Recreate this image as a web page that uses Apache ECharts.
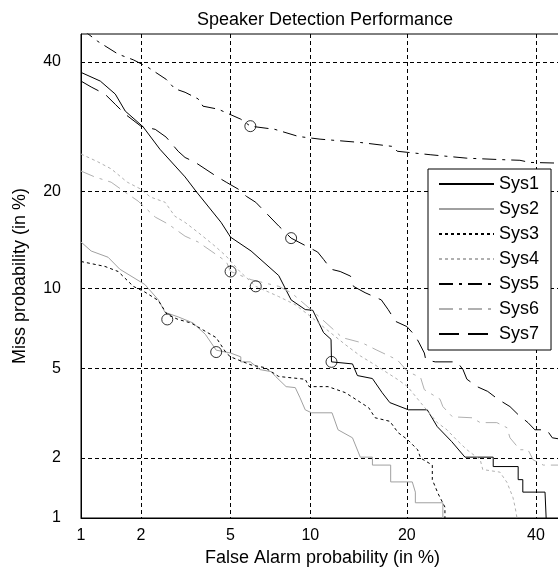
<!DOCTYPE html>
<html>
<head>
<meta charset="utf-8">
<script src="https://cdn.jsdelivr.net/npm/echarts@6/dist/echarts.min.js"></script>
<style>
  html, body { margin: 0; padding: 0; background: #fff; }
  #chart { width: 558px; height: 569px; }
</style>
</head>
<body>
<div id="chart"></div>
<script>
// tick labels (percent), shared by both axes
const tickValues = [1, 2, 5, 10, 20, 40];
const axisMin = 1;
const axisMax = 45;

// DET curves: [false alarm %, miss %]
const sys1 = [[1.0,38.2],[1.26,36.7],[1.5,34.5],[1.68,31.7],[2.05,29.2],[2.46,25.8],[3.2,21.9],[3.58,20.0],
  [4.57,16.3],[5.0,14.7],[6.04,13.3],[7.7,11.05],[8.55,9.1],[9.6,8.4],[10.2,8.35],[11.1,6.9],[11.76,6.5],
  [11.8,5.3],[13.8,5.2],[14.3,4.66],[15.9,4.53],[17.0,3.95],[17.9,3.58],[20.2,3.33],[22.7,3.33],[24.1,2.8],
  [26.2,2.39],[28.2,2.02],[32.7,2.02],[32.7,1.82],[36.9,1.82],[36.9,1.57],[37.7,1.57],[37.7,1.36],
  [41.6,1.36],[41.8,1.0]];
const sys2 = [[1.0,14.2],[1.13,13.3],[1.38,12.7],[1.58,11.6],[2.09,10.3],[2.42,9.1],[2.6,8.2],[2.98,7.9],
  [3.47,7.5],[3.92,6.8],[4.36,5.9],[5.0,5.75],[5.5,5.55],[5.5,5.3],[6.0,5.3],[6.55,4.93],[7.2,4.84],
  [7.5,4.62],[8.2,4.19],[8.85,4.15],[9.2,3.76],[9.6,3.33],[10.1,3.23],[11.85,3.23],[12.4,2.71],[13.8,2.49],
  [14.6,2.02],[15.9,2.02],[15.9,1.85],[18.0,1.85],[18.0,1.53],[20.7,1.53],[21.1,1.36],[21.1,1.2],
  [24.9,1.2],[24.9,1.0]];
const sys3 = [[1.0,12.3],[1.33,11.85],[1.55,11.4],[1.84,10.15],[2.09,9.7],[2.42,9.05],[2.66,8.05],[2.98,7.73],
  [3.4,7.5],[4.36,6.6],[4.8,5.75],[5.0,5.55],[6.04,5.15],[6.85,5.02],[7.7,4.62],[9.6,4.5],[9.9,4.19],
  [11.5,4.19],[13.1,3.95],[15.5,3.4],[16.2,3.07],[17.9,2.96],[18.9,2.63],[20.1,2.44],[21.4,2.19],[21.8,2.0],
  [23.4,1.85],[23.4,1.57],[24.2,1.34],[25.2,1.14],[25.2,1.0]];
const sys4 = [[1.0,25.1],[1.22,24.0],[1.43,23.0],[1.72,21.2],[2.0,20.3],[2.22,19.3],[2.6,18.65],[2.88,17.0],
  [3.2,16.3],[3.65,15.2],[4.3,13.8],[4.8,12.8],[5.45,11.4],[6.3,10.15],[7.7,9.35],[8.85,8.75],[10.06,7.9],
  [11.7,6.9],[13.1,6.2],[14.6,5.6],[16.2,5.15],[18.8,4.5],[20.1,4.19],[21.8,3.58],[24.1,2.92],[25.5,2.71],
  [26.9,2.44],[28.5,2.19],[30.6,1.96],[31.0,1.76],[33.8,1.71],[35.0,1.52],[36.0,1.28],[36.4,1.13],[36.7,1.0]];
const sys5 = [[1.0,46.0],[1.22,43.7],[1.55,41.4],[1.84,40.4],[2.16,39.1],[2.63,37.0],[2.88,35.4],[3.2,34.8],
  [3.65,33.7],[3.83,32.5],[4.45,32.0],[5.5,30.4],[6.0,29.3],[7.45,28.8],[9.1,27.7],[10.8,27.3],[14.6,26.8],
  [18.3,26.2],[18.8,25.5],[23.1,25.0],[28.5,24.5],[33.8,24.3],[37.2,24.2],[38.9,23.9],[44.0,23.8],[45.0,23.7]];
const sys6 = [[1.0,22.7],[1.18,21.9],[1.43,21.2],[1.68,19.9],[1.94,18.8],[2.34,16.9],[2.69,16.1],[3.2,14.8],
  [3.65,14.2],[4.15,13.3],[4.8,12.3],[5.0,11.4],[6.04,10.7],[7.7,10.15],[8.55,9.65],[9.6,8.75],[10.8,7.86],
  [11.95,7.1],[12.8,6.6],[14.8,6.3],[16.4,5.9],[18.8,5.4],[20.1,4.84],[21.8,4.57],[22.3,4.07],[24.5,3.7],
  [24.9,3.44],[26.3,3.1],[29.3,3.07],[30.6,2.92],[33.3,2.92],[35.0,2.77],[35.5,2.49],[37.2,2.19],[38.6,2.19],
  [39.5,1.96],[41.3,1.85],[45.0,1.85]];
const sys7 = [[1.0,36.7],[1.13,35.7],[1.33,34.5],[1.5,32.8],[1.68,31.2],[2.0,29.3],[2.34,28.8],[2.63,27.6],
  [2.98,25.5],[3.2,24.6],[3.55,23.9],[4.36,22.0],[4.8,21.2],[5.37,20.3],[5.78,19.4],[6.3,18.65],[7.7,15.9],
  [8.55,14.6],[10.6,13.2],[11.1,12.5],[11.76,11.6],[12.6,11.4],[13.6,11.0],[13.9,10.15],[15.1,9.65],
  [16.9,9.1],[17.7,8.4],[18.6,7.6],[20.0,7.27],[21.1,6.7],[21.6,6.3],[22.3,5.75],[22.5,5.4],[23.8,5.3],
  [27.0,5.3],[27.9,4.93],[28.5,4.5],[30.1,4.19],[31.8,4.0],[33.5,3.7],[35.5,3.44],[36.9,3.17],[38.6,2.92],
  [39.8,2.71],[41.9,2.71],[42.9,2.49],[45.0,2.44]];

// operating points marked with circles
const minDcf = [[11.8,5.3],[4.36,5.8],[2.66,7.73],[6.3,10.15],[6.0,29.3],[5.0,11.4],[8.55,14.6]];

// inverse normal CDF (Acklam)
function probit(p) {
  const a = [-3.969683028665376e+01, 2.209460984245205e+02, -2.759285104469687e+02, 1.383577518672690e+02, -3.066479806614716e+01, 2.506628277459239e+00];
  const b = [-5.447609879822406e+01, 1.615858368580409e+02, -1.556989798598866e+02, 6.680131188771972e+01, -1.328068155288572e+01];
  const c = [-7.784894002430293e-03, -3.223964580411365e-01, -2.400758277161838e+00, -2.549732539343734e+00, 4.374664141464968e+00, 2.938163982698783e+00];
  const d = [7.784695709041462e-03, 3.224671290700398e-01, 2.445134137142996e+00, 3.754408661907416e+00];
  const pl = 0.02425;
  let q, r;
  if (p < pl) {
    q = Math.sqrt(-2 * Math.log(p));
    return (((((c[0]*q+c[1])*q+c[2])*q+c[3])*q+c[4])*q+c[5]) / ((((d[0]*q+d[1])*q+d[2])*q+d[3])*q+1);
  }
  if (p <= 1 - pl) {
    q = p - 0.5; r = q * q;
    return (((((a[0]*r+a[1])*r+a[2])*r+a[3])*r+a[4])*r+a[5])*q / (((((b[0]*r+b[1])*r+b[2])*r+b[3])*r+b[4])*r+1);
  }
  q = Math.sqrt(-2 * Math.log(1 - p));
  return -(((((c[0]*q+c[1])*q+c[2])*q+c[3])*q+c[4])*q+c[5]) / ((((d[0]*q+d[1])*q+d[2])*q+d[3])*q+1);
}

const toDev = pts => pts.map(([fa, miss]) => [probit(fa / 100), probit(miss / 100)]);
const tickDev = tickValues.map(v => probit(v / 100));
const tickLabel = v => {
  const i = tickDev.findIndex(t => Math.abs(t - v) < 1e-6);
  return i >= 0 ? String(tickValues[i]) : '';
};

const font = 'Liberation Sans, Arial, Helvetica, sans-serif';
const gridLine = { show: true, lineStyle: { color: '#000', type: [4, 3], width: 1 } };

function makeAxis(name, nameGap, labelMargin) {
  return {
    type: 'value',
    min: probit(axisMin / 100),
    max: probit(axisMax / 100),
    name: name,
    nameLocation: 'middle',
    nameGap: nameGap,
    nameTextStyle: { color: '#000', fontSize: 18, fontFamily: font },
    axisLine: { show: true, onZero: false, lineStyle: { color: '#000', width: 1 } },
    axisTick: { show: false, customValues: tickDev },
    axisLabel: { customValues: tickDev, formatter: tickLabel, color: '#000', fontSize: 16, fontFamily: font, margin: labelMargin },
    splitLine: gridLine
  };
}

const styles = [
  { name: 'Sys1', data: sys1, color: '#000', type: 'solid' },
  { name: 'Sys2', data: sys2, color: '#a0a0a0', type: 'solid' },
  { name: 'Sys3', data: sys3, color: '#000', type: [3, 3] },
  { name: 'Sys4', data: sys4, color: '#b0b0b0', type: [3, 3] },
  { name: 'Sys5', data: sys5, color: '#000', type: [14, 6, 3, 6] },
  { name: 'Sys6', data: sys6, color: '#b0b0b0', type: [14, 6, 3, 6] },
  { name: 'Sys7', data: sys7, color: '#000', type: [20, 9] }
];

const chart = echarts.init(document.getElementById('chart'));
chart.setOption({
  animation: false,
  backgroundColor: '#fff',
  title: {
    text: 'Speaker Detection Performance',
    left: 320, textAlign: 'center', top: 6,
    textStyle: { color: '#000', fontSize: 18, fontWeight: 'normal', fontFamily: font }
  },
  grid: {
    left: 81, top: 34, width: 483, height: 484,
    show: true, borderColor: '#000', borderWidth: 1, backgroundColor: '#fff',
    outerBoundsMode: 'none'
  },
  xAxis: makeAxis('False Alarm probability (in %)', 26, 10),
  yAxis: makeAxis('Miss probability (in %)', 52, 20),
  legend: {
    orient: 'vertical',
    left: 428, top: 169,
    data: styles.map(s => s.name),
    itemWidth: 55, itemHeight: 14, itemGap: 7,
    padding: [6, 12, 7, 10],
    backgroundColor: '#fff', borderColor: '#000', borderWidth: 1, borderRadius: 0,
    itemStyle: { color: 'rgba(0,0,0,0)', borderWidth: 0, opacity: 0 },
    textStyle: { color: '#000', fontSize: 18, fontFamily: font, lineHeight: 18 }
  },
  series: styles.map(s => ({
    name: s.name,
    type: 'line',
    data: toDev(s.data),
    symbol: 'none',
    color: s.color,
    lineStyle: { color: s.color, width: 1, type: s.type },
    clip: true,
    z: 3
  })).concat([{
    name: 'minDCF',
    type: 'scatter',
    data: toDev(minDcf),
    symbol: 'circle',
    symbolSize: 11,
    itemStyle: { color: 'rgba(0,0,0,0)', borderColor: '#000', borderWidth: 1 },
    z: 4
  }])
});
</script>
</body>
</html>
